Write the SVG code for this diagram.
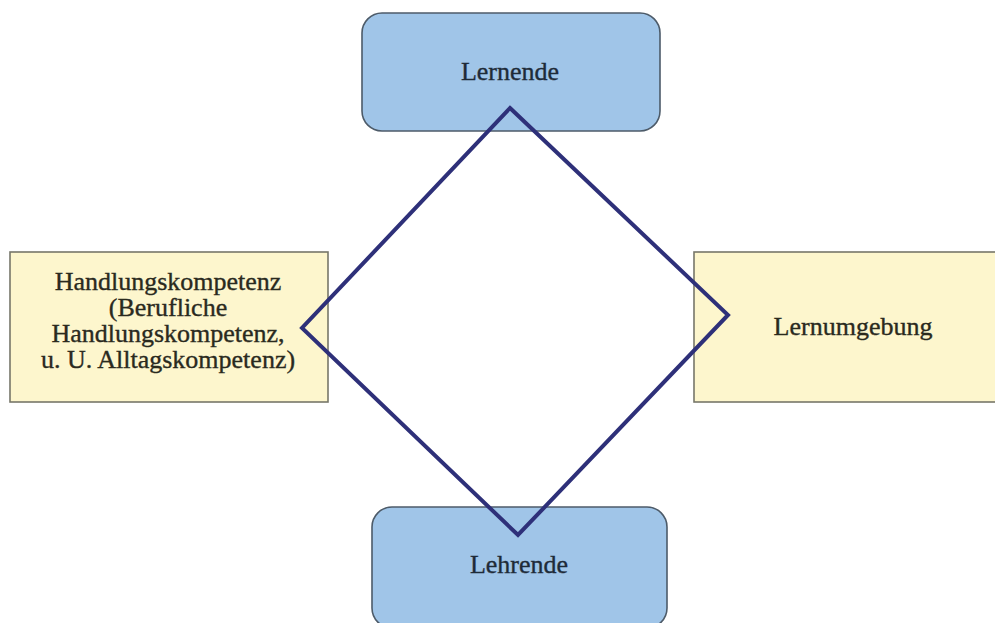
<svg xmlns="http://www.w3.org/2000/svg" width="995" height="623" viewBox="0 0 995 623">
<style>
.blue{fill:#a0c5e8;stroke:#4d5b69;stroke-width:1.6}
.yellow{fill:#fdf6cd;stroke:#77776a;stroke-width:1.6}
.t{font-family:"Liberation Serif","Times New Roman",serif;font-size:26px;text-anchor:middle;stroke-width:0.35}
.tb{fill:#1e2b38;stroke:#1e2b38}
.ty{fill:#2a2a1e;stroke:#2a2a1e}
.dia{fill:none;stroke:#2e3079;stroke-width:4;stroke-linejoin:miter}
</style>
<rect width="995" height="623" fill="#ffffff"/>
<g id="lernende">
<rect class="blue" x="362" y="13" width="298" height="118" rx="20"/>
<text class="t tb" x="510" y="80">Lernende</text>
</g>
<g id="lehrende">
<rect class="blue" x="372" y="507" width="295" height="121" rx="20"/>
<text class="t tb" x="519" y="573">Lehrende</text>
</g>
<g id="handlungskompetenz">
<rect class="yellow" x="10" y="252" width="318" height="150"/>
<text class="t ty" x="168" y="290">Handlungskompetenz</text>
<text class="t ty" x="168" y="316">(Berufliche</text>
<text class="t ty" x="168" y="342">Handlungskompetenz,</text>
<text class="t ty" x="168" y="368">u. U. Alltagskompetenz)</text>
</g>
<g id="lernumgebung">
<rect class="yellow" x="694" y="252" width="310" height="150"/>
<text class="t ty" x="853" y="335">Lernumgebung</text>
</g>
<g id="connectors">
<polygon class="dia" points="510,108 728,315 518,535 302,328"/>
</g>
</svg>
